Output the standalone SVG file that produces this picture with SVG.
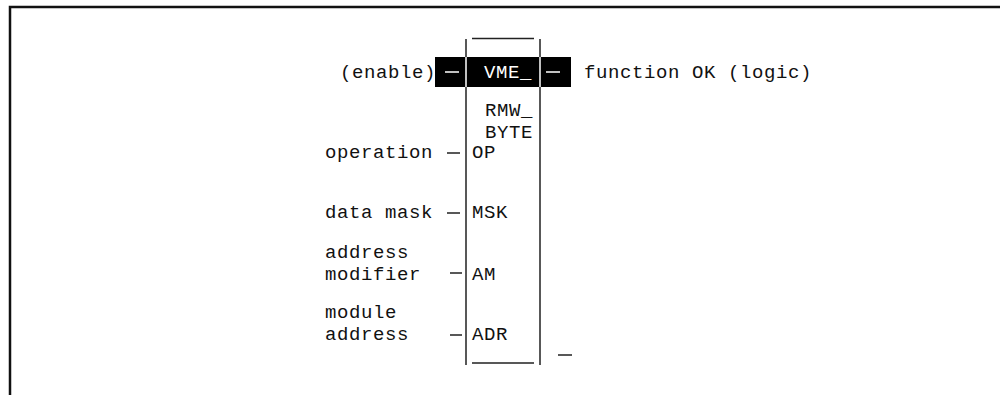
<svg xmlns="http://www.w3.org/2000/svg" width="1000" height="395" viewBox="0 0 1000 395">
<style>
text{font-family:"Liberation Mono","Courier New",monospace;font-size:19px;letter-spacing:0.6px;fill:#111}
.w{fill:#fff}
.ln{stroke:#222;stroke-width:1.5;fill:none}
.wl{stroke:#fff;stroke-width:1.5;fill:none}
.frame{stroke:#111;stroke-width:2.5;fill:none}
</style>
<rect width="1000" height="395" fill="#fff"/>
<path class="frame" d="M10,395 V7 H1000"/>
<g id="block">
  <rect x="435" y="57" width="136" height="30" fill="#000"/>
  <path class="ln" d="M466,39 V57 M466,87 V365 M540,39 V57 M540,87 V365 M472,38.5 H534 M472,363 H534"/>
  <path class="wl" d="M466,57 V87 M540,57 V87"/>
  <text class="w" x="484" y="78">VME_</text>
  <text x="485" y="116">RMW_</text>
  <text x="485" y="138">BYTE</text>
  <text x="472" y="158">OP</text>
  <text x="472" y="218">MSK</text>
  <text x="472" y="280">AM</text>
  <text x="472" y="340">ADR</text>
</g>
<g id="enable"><text x="340" y="78">(enable)</text></g>
<g id="ok"><text x="584" y="78">function OK (logic)</text></g>
<g id="operation"><text x="325" y="158">operation</text></g>
<g id="mask"><text x="325" y="218">data mask</text></g>
<g id="am"><text x="325" y="258">address</text><text x="325" y="280">modifier</text></g>
<g id="adr"><text x="325" y="318">module</text><text x="325" y="340">address</text></g>
<g id="connectors">
  <path class="wl" d="M445,72 H459 M546,72 H560"/>
  <path class="ln" d="M447,153 H460 M447,213 H460 M450,273 H462 M450,335 H462 M558,355 H572"/>
</g>
</svg>
